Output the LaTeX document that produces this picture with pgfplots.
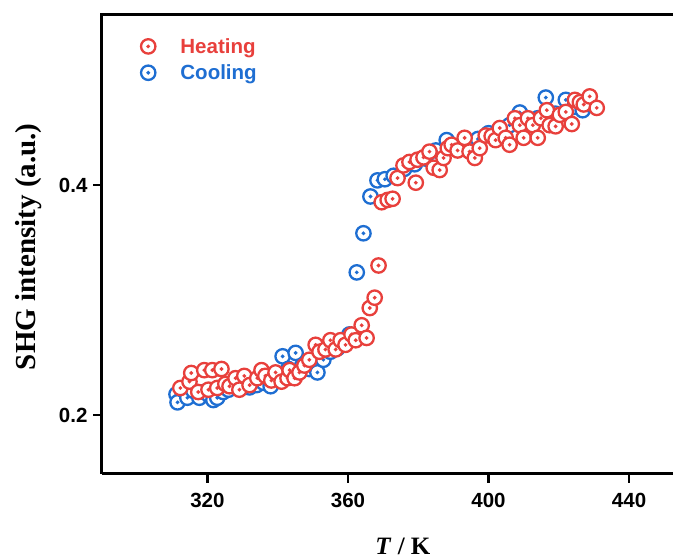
\documentclass[border=0pt]{standalone}
\usepackage{pgfplots}
\pgfplotsset{compat=1.18}
\usepackage{fontspec}
\setmainfont{Liberation Serif}
\setsansfont{Liberation Sans}
\definecolor{hred}{RGB}{232,64,60}
\definecolor{cblue}{RGB}{30,110,210}
\pgfdeclareplotmark{odot}{%
  \pgfpathcircle{\pgfpointorigin}{\pgfplotmarksize}\pgfusepathqfillstroke
  \pgfpathcircle{\pgfpointorigin}{0.45pt}\pgfusepathqstroke}
\begin{document}
\begin{tikzpicture}[x=1pt,y=1pt]
\begin{axis}[
  at={(102pt,85pt)}, anchor=south west,
  scale only axis, width=571pt, height=459pt,
  xmin=290, xmax=452.5, ymin=0.1487, ymax=0.5478,
  axis x line*=bottom, axis y line*=left,
  axis line style={line width=3pt, -},
  clip=false,
  xtick={320,360,400,440}, ytick={0.2,0.4},
  tick align=outside, major tick length=9pt,
  tick style={line width=2.5pt, black},
  yticklabel style={/pgf/number format/fixed, /pgf/number format/fixed zerofill, /pgf/number format/precision=1, xshift=-2pt},
  xticklabel style={yshift=-7pt},
  /pgf/number format/assume math mode=true,
  ticklabel style={font=\fontsize{20.5}{23}\selectfont\sffamily\bfseries},
  xlabel={\textbf{\textit{T}} \textbf{/ K}},
  ylabel={\textbf{SHG intensity (a.u.)}},
  xlabel style={at={(axis description cs:0.527,-0.176)}, anchor=base, font=\fontsize{25}{28}\selectfont},
  ylabel style={at={(axis description cs:-0.129,0.495)}, anchor=center, font=\fontsize{29}{32}\selectfont},
  legend cell align=left,
  legend style={draw=none, fill=none, inner sep=0pt, at={(axis description cs:0.068,0.952)}, anchor=north west,
    font=\fontsize{20.5}{24}\selectfont\sffamily\bfseries, row sep=8pt, nodes={inner sep=1pt}},
]
\addlegendimage{only marks, mark=odot, color=hred, mark options={fill=white, line width=2.3pt}, mark size=7.2pt}
\addlegendentry{\hspace{24pt}\textcolor{hred}{Heating}}
\addlegendimage{only marks, mark=odot, color=cblue, mark options={fill=white, line width=2.3pt}, mark size=7.2pt}
\addlegendentry{\hspace{24pt}\textcolor{cblue}{Cooling}}

\addplot[only marks, mark=odot, color=cblue, mark options={fill=white, line width=2.3pt}, mark size=7.2pt, forget plot] coordinates {
(311.2,0.218) (311.5,0.211) (313,0.222) (314.3,0.215) (316,0.221) (317.7,0.215)
(319,0.220) (320.5,0.217) (321.7,0.213) (322.8,0.215) (324.5,0.220) (326,0.222)
(328,0.225) (330,0.228) (332,0.224) (334,0.226) (336,0.228) (338,0.225)
(340,0.232) (341.4,0.251) (343,0.240) (345.1,0.254) (347,0.243) (349,0.240)
(351.3,0.237) (353,0.248) (355,0.255) (357,0.258) (359,0.262) (360.4,0.270)
(362.5,0.324) (364.4,0.358) (366.4,0.390) (368.4,0.404) (370.5,0.405) (373,0.408)
(376,0.414) (379,0.418) (382,0.423) (385,0.430) (388.1,0.439) (391,0.433)
(394,0.437) (397,0.440) (400,0.445) (403,0.446) (406,0.452) (408.9,0.463)
(411,0.455) (414,0.458) (416.3,0.476) (419,0.462) (422,0.474) (424.5,0.468)
(426.8,0.465) (429,0.470)
};
\addplot[only marks, mark=odot, color=hred, mark options={fill=white, line width=2.3pt}, mark size=7.2pt, forget plot] coordinates {
(312.3,0.2235) (314.9,0.229) (315.4,0.2365) (317.4,0.220) (319.1,0.239) (320.3,0.222)
(321.4,0.239) (322.8,0.2235) (324,0.240) (325.1,0.227) (326.3,0.225) (328,0.232)
(329.1,0.222) (330.5,0.234) (332,0.226) (334.2,0.232) (335.4,0.239) (336.5,0.234)
(338.2,0.230) (339.4,0.237) (341.1,0.229) (342.8,0.232) (343.4,0.239) (344.8,0.232)
(346.2,0.237) (347.6,0.243) (349,0.248) (350.8,0.261) (351.9,0.255) (353.6,0.257)
(355,0.265) (356.5,0.257) (357.9,0.265) (359.3,0.261) (361,0.270) (362.2,0.265)
(363.9,0.278) (365.3,0.267) (366.2,0.293) (367.6,0.302) (368.7,0.330) (369.6,0.385)
(371.3,0.387) (372.7,0.388) (374.1,0.406) (375.8,0.417) (377.5,0.420) (379.3,0.402)
(379.8,0.422) (381.5,0.424) (383.2,0.429) (384.4,0.415) (386.1,0.413) (387.2,0.4235)
(388.4,0.432) (389.5,0.435) (391.2,0.430) (393.2,0.441) (394.6,0.429) (396.1,0.4235)
(397.5,0.432) (399.2,0.443) (400.9,0.4425) (402,0.439) (403.2,0.4495) (404.9,0.441)
(406,0.435) (407.5,0.458) (408.9,0.452) (410,0.441) (411.2,0.458) (412.6,0.452)
(414,0.441) (414.9,0.458) (416.6,0.465) (417.4,0.452) (419.1,0.451) (420.3,0.461)
(422,0.4635) (423.7,0.453) (424.6,0.474) (426,0.472) (427.1,0.470) (428.8,0.477)
(430.8,0.467)
};
\draw[line width=3pt, line cap=rect] (rel axis cs:0,1) -- (rel axis cs:1,1);
\end{axis}
\pgfresetboundingbox
\useasboundingbox (0,0) rectangle (673pt,559pt);
\end{tikzpicture}
\end{document}
